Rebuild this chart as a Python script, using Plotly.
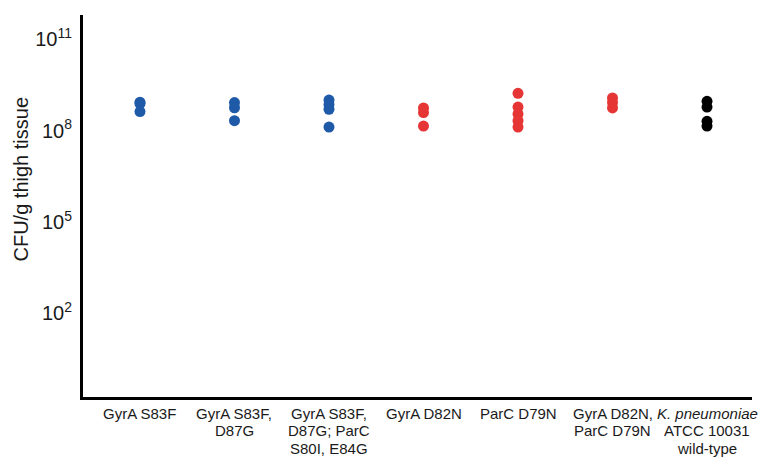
import plotly.graph_objects as go

# Strain groups shown along the x axis (lines separated by <br>)
strains = [
    "GyrA S83F",
    "GyrA S83F,<br>D87G",
    "GyrA S83F,<br>D87G; ParC<br>S80I, E84G",
    "GyrA D82N",
    "ParC D79N",
    "GyrA D82N,<br>ParC D79N",
    "<i>K. pneumoniae</i><br>ATCC 10031<br>wild-type",
]

# CFU per gram of thigh tissue, one list per strain
gyra_s83f = [8.5e8, 7.6e8, 4.2e8]
gyra_s83f_d87g = [8.3e8, 5.6e8, 2.1e8]
gyra_s83f_d87g_parc = [1.0e9, 7.1e8, 5.0e8, 1.3e8]
gyra_d82n = [5.5e8, 3.9e8, 1.4e8]
parc_d79n = [1.66e9, 5.9e8, 3.5e8, 2.1e8, 1.3e8]
gyra_d82n_parc_d79n = [1.17e9, 8.3e8, 5.5e8]
wild_type = [9.1e8, 5.9e8, 2.0e8, 1.4e8]

groups = [gyra_s83f, gyra_s83f_d87g, gyra_s83f_d87g_parc,
          gyra_d82n, parc_d79n, gyra_d82n_parc_d79n, wild_type]
colors = ["#1f5aa8", "#1f5aa8", "#1f5aa8",
          "#e53535", "#e53535", "#e53535", "#000000"]

y_ticks = [1e2, 1e5, 1e8, 1e11]
y_tick_text = ["10<sup>2</sup>", "10<sup>5</sup>", "10<sup>8</sup>", "10<sup>11</sup>"]

fig = go.Figure()
for i, (vals, col) in enumerate(zip(groups, colors)):
    fig.add_trace(go.Scatter(
        x=[i] * len(vals), y=vals, mode="markers",
        marker=dict(size=11, color=col, line=dict(width=0)),
        showlegend=False, hoverinfo="y",
    ))

# Category labels: one annotation per text line for tighter line spacing
label_font = dict(family="Liberation Sans, Arial, sans-serif", size=15, color="#1a1a1a")
annotations = []
for i, label in enumerate(strains):
    for j, line in enumerate(label.split("<br>")):
        annotations.append(dict(
            text=line, x=i, xref="x", y=0, yref="paper",
            xanchor="center", yanchor="middle", yshift=-16 - 17.5 * j,
            showarrow=False, font=label_font,
        ))

annotations.append(dict(
    text="CFU/g thigh tissue", textangle=-90,
    xref="paper", yref="paper", x=-0.0912, y=0.572,
    xanchor="center", yanchor="middle", showarrow=False,
    font=dict(family="Liberation Sans, Arial, sans-serif", size=20, color="#1a1a1a"),
))

fig.update_layout(
    width=767, height=457,
    margin=dict(l=83, r=15, t=15, b=60, autoexpand=False),
    paper_bgcolor="white", plot_bgcolor="white",
    font=dict(family="Liberation Sans, Arial, sans-serif", color="#1a1a1a"),
    xaxis=dict(
        range=[-0.603, 6.476], tickmode="array",
        tickvals=list(range(len(strains))), showticklabels=False,
        showgrid=False, zeroline=False, automargin=False,
        showline=True, linecolor="black", linewidth=3, ticks="",
    ),
    yaxis=dict(
        type="log", range=[-0.74, 11.79],
        tickmode="array", tickvals=y_ticks, ticktext=y_tick_text,
        showgrid=False, zeroline=False, automargin=False,
        showline=True, linecolor="black", linewidth=3,
        ticks="", tickfont=dict(size=20, color="#1a1a1a"),
        ticklabelstandoff=4,
    ),
    annotations=annotations,
)

fig.write_html("out.html")
